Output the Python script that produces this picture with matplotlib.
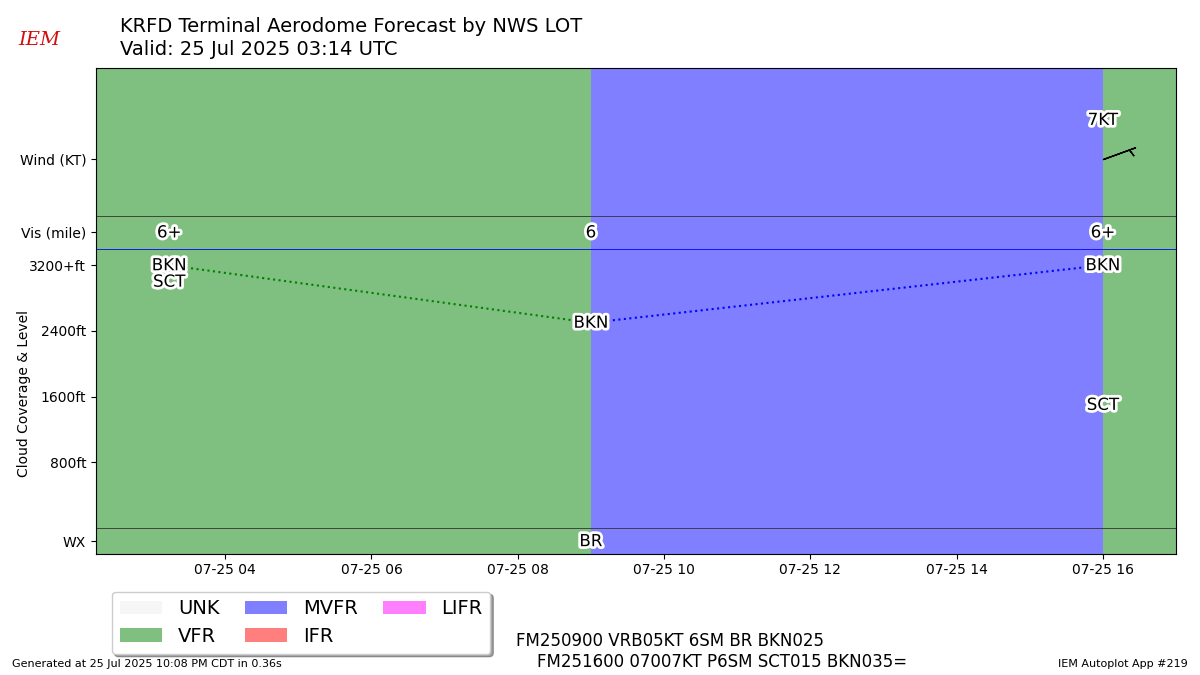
import matplotlib
matplotlib.use("Agg")
import matplotlib.pyplot as plt
import matplotlib.patheffects as pe
import matplotlib.dates as mdates
from matplotlib.patches import Rectangle
import numpy as np
from datetime import datetime

# ---- data ----
valid_times = [datetime(2025, 7, 25, 3, 14), datetime(2025, 7, 25, 9, 0), datetime(2025, 7, 25, 16, 0)]
end_time = datetime(2025, 7, 25, 17, 0)
start_time = datetime(2025, 7, 25, 2, 14)
categories = ["VFR", "MVFR", "VFR"]
vis_labels = ["6+", "6", "6+"]
wx_labels = ["", "BR", ""]
cloud_cover = [["BKN", "SCT"], ["BKN"], ["BKN", "SCT"]]
cloud_level = [[3200, 3000], [2500], [3200, 1500]]
wind_speed = [None, None, 7]
wind_dir = [None, None, 70]
cat_colors = {"UNK": "#EEEEEE", "VFR": "green", "MVFR": "blue", "IFR": "red", "LIFR": "magenta"}
yticks = [-160, 800, 1600, 2400, 3200, 3600, 4500]
ytick_labels = ["WX", "800ft", "1600ft", "2400ft", "3200+ft", "Vis (mile)", "Wind (KT)"]
tafs = "FM250900 VRB05KT 6SM BR BKN025\n    FM251600 07007KT P6SM SCT015 BKN035="

fig = plt.figure(figsize=(12, 6.75), dpi=100)
ax = fig.add_axes([0.08, 0.18, 0.9, 0.719])
pe_w = [pe.withStroke(linewidth=4, foreground="white")]

bounds = valid_times[1:] + [end_time]
starts = [start_time] + valid_times[1:]
for s, e, c in zip(starts, bounds, categories):
    ax.axvspan(s, e, color=cat_colors[c], alpha=0.5, lw=0)

for t, v in zip(valid_times, vis_labels):
    ax.text(t, 3600, v, ha="center", va="center", fontsize=12, path_effects=pe_w)
for t, w in zip(valid_times, wx_labels):
    if w:
        ax.text(t, -160, w, ha="center", va="center", fontsize=12, path_effects=pe_w)
for t, covs, lvls in zip(valid_times, cloud_cover, cloud_level):
    for cv, lv in zip(covs, lvls):
        ax.text(t, lv, cv, ha="center", va="center", fontsize=12, path_effects=pe_w)

for i in range(len(valid_times) - 1):
    ax.plot([valid_times[i], valid_times[i + 1]], [cloud_level[i][0], cloud_level[i + 1][0]],
            ls=":", color=cat_colors[categories[i]], lw=1.5)

for t, sp, d in zip(valid_times, wind_speed, wind_dir):
    if sp is None:
        continue
    u = -sp * np.sin(np.radians(d))
    v = -sp * np.cos(np.radians(d))
    ax.barbs([mdates.date2num(t)], [4500], [u], [v], length=7)
    ax.text(t, 4970, f"{sp}KT", ha="center", va="center", fontsize=12, path_effects=pe_w)

for yl, c in [(0, "#333333"), (3400, "blue"), (3800, "#333333")]:
    ax.axhline(yl, color=c, lw=0.6)

ax.set_xlim(start_time, end_time)
ax.set_ylim(-310, 5600)
ax.set_yticks(yticks)
ax.set_yticklabels(ytick_labels)
ax.set_ylabel("Cloud Coverage & Level")
ax.yaxis.set_label_coords(-0.06, 0.33)
ax.xaxis.set_major_locator(mdates.HourLocator(byhour=range(0, 24, 2)))
ax.xaxis.set_major_formatter(mdates.DateFormatter("%m-%d %H"))

handles = [Rectangle((0, 0), 1, 1, color=cat_colors[k], alpha=0.5, lw=0) for k in cat_colors]
fig.legend(handles, list(cat_colors.keys()), ncol=3, loc="upper left",
           bbox_to_anchor=(0.085, 0.138), fontsize=14, shadow=True,
           handlelength=2.2, columnspacing=1.3, borderpad=0.4, labelspacing=0.45)

fig.text(0.1, 0.96, "KRFD Terminal Aerodome Forecast by NWS LOT", fontsize=14, va="center")
fig.text(0.1, 0.926, "Valid: 25 Jul 2025 03:14 UTC", fontsize=14, va="center")
fig.text(0.015, 0.933, "IEM", color="#d01010", fontsize=14, style="italic", family="serif")
fig.text(0.43, 0.035, tafs, fontsize=12, va="center")
fig.text(0.01, 0.012, "Generated at 25 Jul 2025 10:08 PM CDT in 0.36s", fontsize=8)
fig.text(0.99, 0.012, "IEM Autoplot App #219", fontsize=8, ha="right")

fig.savefig("out.png")
